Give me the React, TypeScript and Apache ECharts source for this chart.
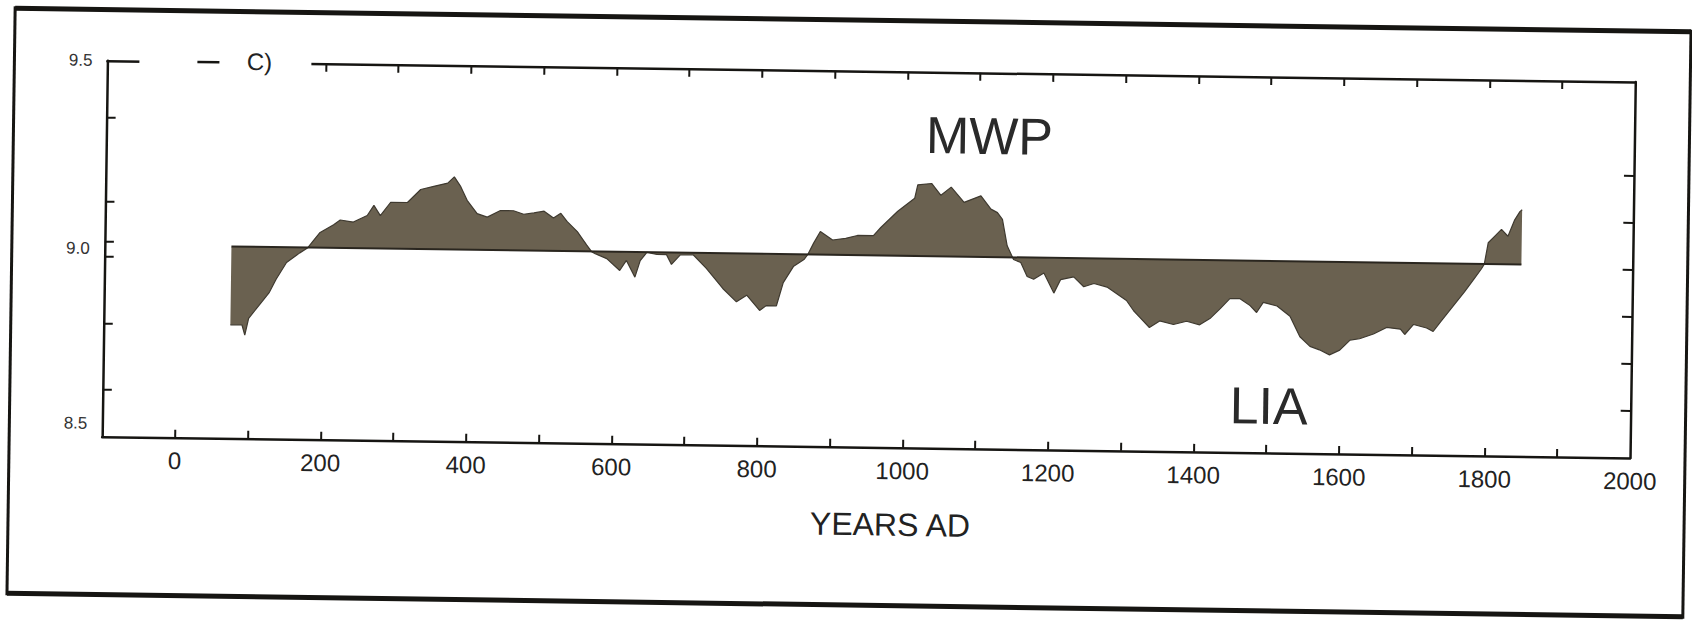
import React, { useEffect, useRef } from "react";
import * as echarts from "echarts";

const years = [
  74, 90, 94, 99, 113, 127, 136, 150, 168, 179, 186, 195, 214, 223, 241, 260, 269, 278, 292, 315,
  333, 351, 370, 379, 388, 397, 411, 425, 443, 461, 475, 489, 503, 516, 526, 535, 549, 562, 569, 574,
  590, 608, 617, 629, 636, 645, 659, 672, 679, 691, 709, 727, 750, 769, 783, 801, 810, 824, 833, 847,
  861, 866, 874, 883, 900, 918, 934, 956, 966, 989, 1012, 1016, 1035, 1048, 1062, 1080, 1103, 1117, 1126, 1133,
  1140, 1149, 1159, 1168, 1177, 1191, 1205, 1214, 1232, 1246, 1260, 1278, 1292, 1305, 1315, 1324, 1337, 1351, 1370, 1388,
  1406, 1420, 1434, 1447, 1461, 1475, 1484, 1493, 1512, 1530, 1544, 1558, 1571, 1585, 1599, 1613, 1626, 1645, 1663, 1682,
  1688, 1700, 1718, 1727, 1737, 1755, 1769, 1782, 1792, 1796, 1801, 1810, 1819, 1828, 1837, 1844, 1847,
];

const temps = [
  8.802, 8.802, 8.775, 8.82, 8.855, 8.89, 8.925, 8.97, 8.996, 9.01, 9.028, 9.05, 9.072, 9.085, 9.08, 9.098, 9.125, 9.098, 9.134, 9.134,
  9.169, 9.178, 9.187, 9.204, 9.178, 9.142, 9.107, 9.098, 9.116, 9.116, 9.107, 9.111, 9.116, 9.098, 9.111, 9.089, 9.063, 9.028, 9.01, 9.005,
  8.992, 8.961, 8.988, 8.944, 8.988, 9.01, 9.005, 9.005, 8.979, 9.005, 9.005, 8.97, 8.917, 8.882, 8.9, 8.86, 8.873, 8.873, 8.935, 8.979,
  8.997, 9.01, 9.041, 9.072, 9.05, 9.055, 9.063, 9.063, 9.085, 9.129, 9.164, 9.2, 9.204, 9.173, 9.195, 9.155, 9.173, 9.138, 9.129, 9.111,
  9.041, 9.005, 8.997, 8.96, 8.953, 8.97, 8.917, 8.953, 8.961, 8.935, 8.944, 8.935, 8.917, 8.9, 8.873, 8.855, 8.829, 8.847, 8.838, 8.847,
  8.838, 8.855, 8.882, 8.909, 8.909, 8.891, 8.873, 8.9, 8.891, 8.864, 8.81, 8.785, 8.776, 8.763, 8.776, 8.803, 8.807, 8.82, 8.838, 8.834,
  8.82, 8.847, 8.838, 8.829, 8.855, 8.9, 8.935, 8.97, 8.997, 9.01, 9.067, 9.085, 9.103, 9.085, 9.129, 9.151, 9.156,
];

const baseline = 9.01;
const xLabelYears = [0, 200, 400, 600, 800, 1000, 1200, 1400, 1600, 1800, 2000];
const xTickYears = [0, 100, 200, 300, 400, 500, 600, 700, 800, 900, 1000, 1100, 1200, 1300, 1400, 1500, 1600, 1700, 1800, 1900];
const yLabelValues = [8.535, 9.0, 9.5];
const yLeftTicks = [9.35, 9.125, 9.02, 8.98, 8.8, 8.625];
const yRightTicks = [9.25, 9.125, 9.0, 8.875, 8.75, 8.625];

const INK = "#161512";
const FILL = "#6a6150";
const FONT = "Liberation Sans, Arial, sans-serif";

export default function App() {
  const ref = useRef<HTMLDivElement>(null);

  useEffect(() => {
    document.body.style.margin = "0";
    document.body.style.background = "#ffffff";
    if (!ref.current) return;
    const chart = echarts.init(ref.current, null, { renderer: "svg" });

    const axisLine = { show: true, onZero: false, lineStyle: { color: INK, width: 2.5 } };

    const option: any = {
      animation: false,
      backgroundColor: "#ffffff",
      grid: { left: 104, right: 60, top: 71, bottom: 175 },
      xAxis: [
        {
          type: "value",
          min: -100,
          max: 2000,
          position: "bottom",
          axisLine,
          axisTick: { show: true, inside: true, length: 8, customValues: xTickYears, lineStyle: { color: INK, width: 2 } },
          axisLabel: {
            customValues: xLabelYears,
            formatter: (v: number) => String(v),
            fontSize: 24,
            color: "#222",
            margin: 11,
            fontFamily: FONT,
          },
          splitLine: { show: false },
        },
        {
          type: "value",
          min: -100,
          max: 2000,
          position: "top",
          axisLine,
          axisTick: { show: true, inside: true, length: 8, customValues: xTickYears, lineStyle: { color: INK, width: 2 } },
          axisLabel: { show: false },
          splitLine: { show: false },
        },
      ],
      yAxis: [
        {
          type: "value",
          min: 8.5,
          max: 9.5,
          position: "left",
          axisLine,
          axisTick: { show: true, inside: true, length: 9, customValues: yLeftTicks, lineStyle: { color: INK, width: 2 } },
          axisLabel: {
            customValues: yLabelValues,
            formatter: (v: number) => v.toFixed(1),
            fontSize: 17,
            color: "#333",
            margin: 15,
            fontFamily: FONT,
          },
          splitLine: { show: false },
        },
        {
          type: "value",
          min: 8.5,
          max: 9.5,
          position: "right",
          axisLine,
          axisTick: { show: true, inside: true, length: 10, customValues: yRightTicks, lineStyle: { color: INK, width: 2 } },
          axisLabel: { show: false },
          splitLine: { show: false },
        },
      ],
      series: [
        {
          type: "line",
          xAxisIndex: 0,
          yAxisIndex: 0,
          data: years.map((y, i) => [y, temps[i]]),
          symbol: "none",
          smooth: false,
          lineStyle: { color: "#3f3a30", width: 1.2 },
          areaStyle: { color: FILL, opacity: 1, origin: baseline },
          markLine: {
            silent: true,
            symbol: "none",
            label: { show: false },
            lineStyle: { color: "#2a261f", width: 2, type: "solid" },
            data: [[{ coord: [years[0], baseline] }, { coord: [years[years.length - 1], baseline] }]],
          },
        },
      ],
      graphic: [
        { type: "line", shape: { x1: 11, y1: 20, x2: 1687, y2: 20 }, style: { stroke: INK, lineWidth: 5 } },
        { type: "line", shape: { x1: 11, y1: 605, x2: 1687, y2: 605 }, style: { stroke: INK, lineWidth: 5 } },
        { type: "line", shape: { x1: 11, y1: 18, x2: 11, y2: 607 }, style: { stroke: INK, lineWidth: 3 } },
        { type: "line", shape: { x1: 1687, y1: 18, x2: 1687, y2: 607 }, style: { stroke: INK, lineWidth: 3 } },
        { type: "rect", z: 100, shape: { x: 136, y: 64, width: 172, height: 18 }, style: { fill: "#ffffff" } },
        { type: "line", z: 101, shape: { x1: 194, y1: 71, x2: 216, y2: 71 }, style: { stroke: INK, lineWidth: 2.5 } },
        {
          type: "text",
          z: 101,
          x: 256,
          y: 70,
          style: { text: "C)", fontSize: 24, fontFamily: FONT, fill: "#222", align: "center", verticalAlign: "middle" },
        },
        {
          type: "text",
          z: 101,
          x: 987,
          y: 134,
          style: { text: "MWP", fontSize: 52, fontFamily: FONT, fill: "#2a2a2a", align: "center", verticalAlign: "middle" },
        },
        {
          type: "text",
          z: 101,
          x: 1270,
          y: 400,
          style: { text: "LIA", fontSize: 52, fontFamily: FONT, fill: "#2a2a2a", align: "center", verticalAlign: "middle" },
        },
        {
          type: "text",
          z: 101,
          x: 893,
          y: 524,
          style: { text: "YEARS AD", fontSize: 32, fontFamily: FONT, fill: "#222", align: "center", verticalAlign: "middle" },
        },
      ],
    };

    chart.setOption(option);
    return () => chart.dispose();
  }, []);

  return (
    <div style={{ width: 1692, height: 622, overflow: "hidden", position: "relative", background: "#ffffff" }}>
      <div
        ref={ref}
        style={{
          width: 1692,
          height: 622,
          transform: "rotate(0.8deg)",
          transformOrigin: "846px 311px",
        }}
      />
    </div>
  );
}
